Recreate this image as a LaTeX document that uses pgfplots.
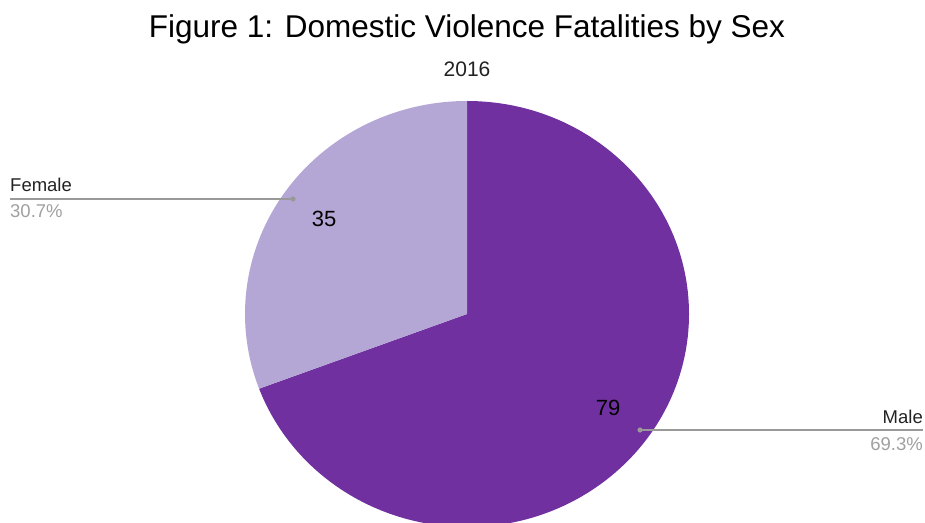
\documentclass[border=0pt]{standalone}
\usepackage{pgfplots}
\pgfplotsset{compat=1.18}
\usepackage{fontspec}
\setmainfont{Liberation Sans}
\definecolor{maleC}{RGB}{112,48,160}
\definecolor{femaleC}{RGB}{180,166,213}
\definecolor{leadC}{RGB}{153,153,153}
\definecolor{pctC}{RGB}{160,160,160}
\definecolor{txtC}{RGB}{34,34,34}
% data
\def\maleval{79}
\def\femaleval{35}
\pgfmathsetmacro{\total}{\maleval+\femaleval}
\pgfmathsetmacro{\maleang}{\maleval/\total*360}
\pgfmathsetmacro{\femaleang}{\femaleval/\total*360}
\begin{document}
\begin{tikzpicture}
\useasboundingbox (0,0) rectangle (925pt,522pt);
\clip (0,0) rectangle (925pt,522pt);
\begin{axis}[
  x=1pt, y=1pt,
  xmin=0, xmax=925, ymin=0, ymax=522,
  hide axis, clip=true,
  anchor=south west, at={(0,0)},
  scale only axis,
]
% Male wedge: clockwise from 12 o'clock
\fill[maleC] (axis cs:467,208) -- ++(0pt,213pt)
  arc[start angle=90, end angle={90-\maleang}, x radius=222pt, y radius=213pt] -- cycle;
% Female wedge: counter-clockwise from 12 o'clock
\fill[femaleC] (axis cs:467,208) -- ++(0pt,213pt)
  arc[start angle=90, end angle={90+\femaleang}, x radius=222pt, y radius=213pt] -- cycle;
% value labels
\node[font=\fontsize{22}{26}\selectfont, text=black] at (axis cs:324,303) {35};
\node[font=\fontsize{22}{26}\selectfont, text=black] at (axis cs:608,114) {79};
% leader lines
\draw[leadC, line width=1.3pt] (axis cs:10,323) -- (axis cs:293,323);
\fill[leadC] (axis cs:293,323) circle[radius=2.6pt];
\draw[leadC, line width=1.3pt] (axis cs:640,92) -- (axis cs:923,92);
\fill[leadC] (axis cs:640,92) circle[radius=2.6pt];
% category labels
\node[anchor=base west, inner sep=0pt, text=txtC, font=\fontsize{18.5}{21}\selectfont] at (axis cs:10,330) {Female};
\node[anchor=base west, inner sep=0pt, text=pctC, font=\fontsize{18.5}{21}\selectfont] at (axis cs:10,304) {30.7\%};
\node[anchor=base east, inner sep=0pt, text=txtC, font=\fontsize{18.5}{21}\selectfont] at (axis cs:923,99) {Male};
\node[anchor=base east, inner sep=0pt, text=pctC, font=\fontsize{18.5}{21}\selectfont] at (axis cs:923,72) {69.3\%};
% titles
\node[anchor=base, inner sep=0pt, text=black, font=\fontsize{31.5}{36}\selectfont] at (axis cs:467,484) {Figure 1: Domestic Violence Fatalities by Sex};
\node[anchor=base, inner sep=0pt, text=txtC, font=\fontsize{21}{25}\selectfont] at (axis cs:467,445) {2016};
\end{axis}
\end{tikzpicture}
\end{document}
